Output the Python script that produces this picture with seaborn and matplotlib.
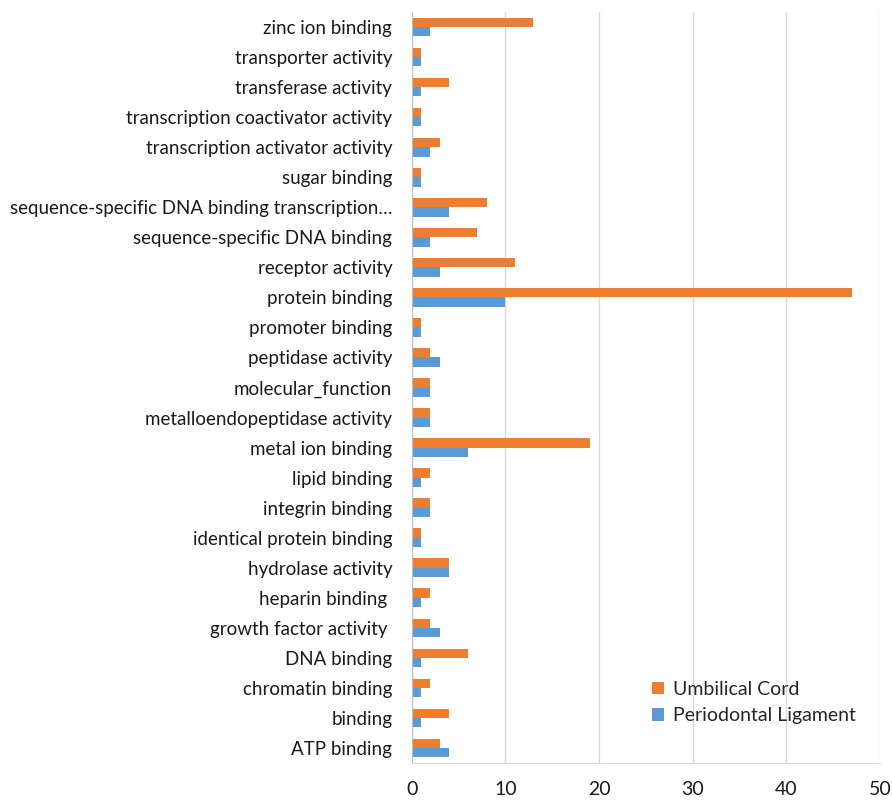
import matplotlib
matplotlib.use('Agg')
import matplotlib.pyplot as plt
import seaborn as sns
import pandas as pd
import numpy as np

# GO molecular function terms, top to bottom as shown
categories = [
    'zinc ion binding', 'transporter activity', 'transferase activity',
    'transcription coactivator activity', 'transcription activator activity',
    'sugar binding', 'sequence-specific DNA binding transcription\u2026',
    'sequence-specific DNA binding', 'receptor activity', 'protein binding',
    'promoter binding', 'peptidase activity', 'molecular_function',
    'metalloendopeptidase activity', 'metal ion binding', 'lipid binding',
    'integrin binding', 'identical protein binding', 'hydrolase activity',
    'heparin binding ', 'growth factor activity ', 'DNA binding',
    'chromatin binding', 'binding', 'ATP binding',
]
umbilical_cord = [13, 1, 4, 1, 3, 1, 8, 7, 11, 47, 1, 2, 2, 2, 19, 2, 2, 1, 4, 2, 2, 6, 2, 4, 3]
periodontal_ligament = [2, 1, 1, 1, 2, 1, 4, 2, 3, 10, 1, 3, 2, 2, 6, 1, 2, 1, 4, 1, 3, 1, 1, 1, 4]
series_names = ['Umbilical Cord', 'Periodontal Ligament']
x_ticks = [0, 10, 20, 30, 40, 50]

df = pd.DataFrame({
    'term': categories * 2,
    'count': umbilical_cord + periodontal_ligament,
    'source': [series_names[0]] * len(categories) + [series_names[1]] * len(categories),
})

sns.set_style('white')
plt.rcParams['font.family'] = ['Lato', 'DejaVu Sans']

fig = plt.figure(figsize=(8.92, 8.02), dpi=100)
ax = fig.add_axes([0.4615, 0.0486, 0.525, 0.9364])

sns.barplot(
    data=df, y='term', x='count', hue='source',
    order=categories, hue_order=series_names,
    palette=['#ED7D31', '#5B9BD5'], width=0.62,
    orient='h', ax=ax, saturation=1, edgecolor='none',
)

ax.set_xlim(0, 50)
ax.set_xticks(x_ticks)
ax.set_ylim(len(categories) - 0.5, -0.5)
ax.set_xlabel('')
ax.set_ylabel('')
ax.grid(axis='x', color='#d9d9d9', linewidth=1)
ax.set_axisbelow(True)

for side in ['top', 'right']:
    ax.spines[side].set_visible(False)
ax.spines['left'].set_color('#bfbfbf')
ax.spines['bottom'].set_color('#d9d9d9')

ax.tick_params(axis='y', which='major', length=0, pad=14, labelsize=13.5, labelcolor='#1a1a1a')
ax.set_yticks(np.arange(len(categories) + 1) - 0.5, minor=True)
ax.tick_params(axis='y', which='minor', length=6, color='#bfbfbf')
ax.tick_params(axis='x', length=7, color='#d9d9d9', labelsize=14, pad=6, labelcolor='#1a1a1a')

ax.legend(
    loc='lower right', bbox_to_anchor=(0.985, 0.028), frameon=False,
    fontsize=14, handlelength=0.6, handleheight=0.6, handletextpad=0.45,
    labelspacing=0.5,
)

fig.savefig('out.png', dpi=100)
